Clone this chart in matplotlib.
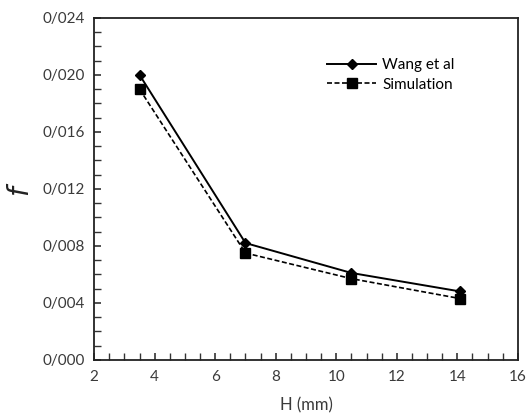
import numpy as np
import matplotlib.pyplot as plt
from matplotlib.ticker import MultipleLocator, FuncFormatter

# channel height (mm) vs friction factor
h_mm = [3.5, 7.0, 10.5, 14.1]
f_wang = [0.0200, 0.0082, 0.0061, 0.0048]
f_sim = [0.0190, 0.0075, 0.0057, 0.0043]

plt.rcParams['font.family'] = ['Lato', 'DejaVu Sans']

fig = plt.figure(figsize=(5.29, 4.17), dpi=100)
ax = fig.add_axes([0.178, 0.137, 0.801, 0.82])

ax.plot(h_mm, f_wang, color='black', lw=1.4, ls='-', marker='D',
        markersize=5.5, label='Wang et al')
ax.plot(h_mm, f_sim, color='black', lw=1.2, ls=(0, (3, 1.5)), marker='s',
        markersize=7.5, label='Simulation')

ax.set_xlim(2, 16)
ax.set_ylim(0, 0.024)
ax.xaxis.set_major_locator(MultipleLocator(2))
ax.xaxis.set_minor_locator(MultipleLocator(0.5))
ax.yaxis.set_major_locator(MultipleLocator(0.004))
ax.yaxis.set_minor_locator(MultipleLocator(0.001))
ax.yaxis.set_major_formatter(FuncFormatter(lambda v, p: f'{v:.3f}'.replace('.', '/')))

ax.tick_params(which='both', direction='in', top=False, right=False,
               labelsize=11, colors='#333333', labelcolor='#3a3a3a', pad=7)
ax.tick_params(which='major', length=5, width=1.2)
ax.tick_params(which='minor', length=5, width=1.0)
for s in ax.spines.values():
    s.set_linewidth(1.3)
    s.set_color('#222222')

ax.set_xlabel('H (mm)', fontsize=12, color='#3a3a3a', labelpad=10)
ax.set_ylabel('$f$', fontsize=20, rotation=90, color='#222222', labelpad=6)

ax.legend(loc='upper right', bbox_to_anchor=(0.865, 0.9), frameon=False,
          fontsize=11, handlelength=3.2, handletextpad=0.4,
          labelspacing=0.35, borderaxespad=0)

fig.savefig('out.png', dpi=100)
